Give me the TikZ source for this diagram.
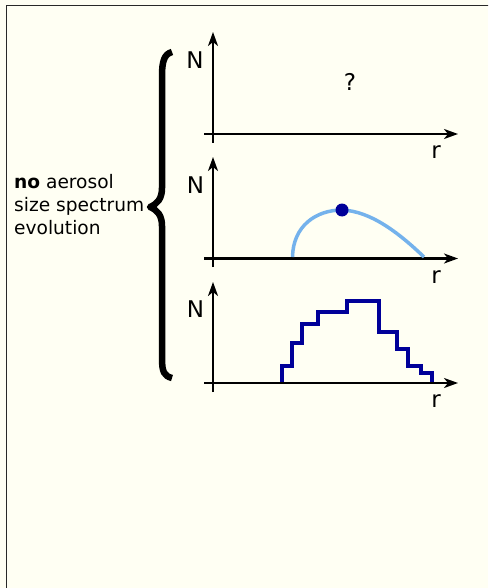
\documentclass[tikz,border=0pt]{standalone}
\usepackage{fontspec}
\setmainfont{DejaVu Sans}
\usetikzlibrary{arrows.meta}
\definecolor{bgc}{RGB}{255,255,243}
\definecolor{framec}{RGB}{40,40,40}
\definecolor{curvec}{RGB}{116,178,236}
\definecolor{navyc}{RGB}{0,0,153}
\tikzset{
  axis/.style={line width=2.2pt, -{Stealth[length=14pt,width=10pt,inset=4pt]}},
  lbl/.style={inner sep=0pt, font=\fontsize{23}{27}\selectfont},
  txt/.style={inner sep=0pt, anchor=base west, font=\fontsize{18.6}{23}\selectfont},
}
\begin{document}
\begin{tikzpicture}[x=1pt,y=-1pt]
\useasboundingbox (0,0) rectangle (488,588);
\fill[bgc] (0,0) rectangle (488,588);
\clip (0,0) rectangle (488,588);
\draw[framec, line width=1.3pt] (6.5,600) -- (6.5,5.5) -- (500,5.5);

% brace
\draw[line width=6.5pt, line cap=butt, line join=round]
  (172,52) .. controls (164,54) and (162,62) .. (162,76) -- (162,188)
  .. controls (162,199) and (157,204) .. (150,207)
  .. controls (157,210) and (162,215) .. (162,226) -- (162,358)
  .. controls (162,372) and (164,376) .. (172,378);

% text
\node[txt] (t1) at (14,188) {\textbf{no} aerosol};
\node[txt] (t2) at (14,211) {size spectrum};
\node[txt] (t3) at (14,234) {evolution};

% panel 1
\coordinate (y1b) at (213,143);
\coordinate (y1t) at (213,32);
\coordinate (x1l) at (204,134);
\coordinate (x1r) at (458,134);
\draw[axis] (y1b) -- (y1t);
\draw[axis] (x1l) -- (x1r);
\node[lbl] (n1) at (195,60) {N};
\node[lbl] (r1) at (436,152) {r};
\node[lbl] (q1) at (350,82) {?};

% panel 2
\coordinate (y2b) at (213,267);
\coordinate (y2t) at (213,157);
\coordinate (x2l) at (204,258.5);
\coordinate (x2r) at (458,258.5);
\draw[axis] (y2b) -- (y2t);
\draw[axis] (x2l) -- (x2r);
\node[lbl] (n2) at (195.5,185) {N};
\node[lbl] (r2) at (436,277) {r};
\coordinate (c0) at (292.5,257);
\coordinate (pk) at (342,210);
\coordinate (c1) at (424,257);
\draw[curvec, line width=3.5pt]
  (c0) .. controls (293,226) and (316,210) .. (pk)
  .. controls (370,211) and (398,232) .. (c1);
\fill[navyc] (pk) circle (6.5);

% panel 3
\coordinate (y3b) at (213,392);
\coordinate (y3t) at (213,282);
\coordinate (x3l) at (204,383);
\coordinate (x3r) at (458,383);
\draw[axis] (y3b) -- (y3t);
\draw[axis] (x3l) -- (x3r);
\node[lbl] (n3) at (195.5,309.5) {N};
\node[lbl] (r3) at (436,401) {r};
\coordinate (s0) at (282,382);
\draw[navyc, line width=3.5pt] (s0) |- (292,366) |- (302,343) |- (318,324) |- (347,312)
  |- (379,301) |- (397,332) |- (408,349) |- (421,366) |- (432,373) -- (432,382);
\end{tikzpicture}
\end{document}
